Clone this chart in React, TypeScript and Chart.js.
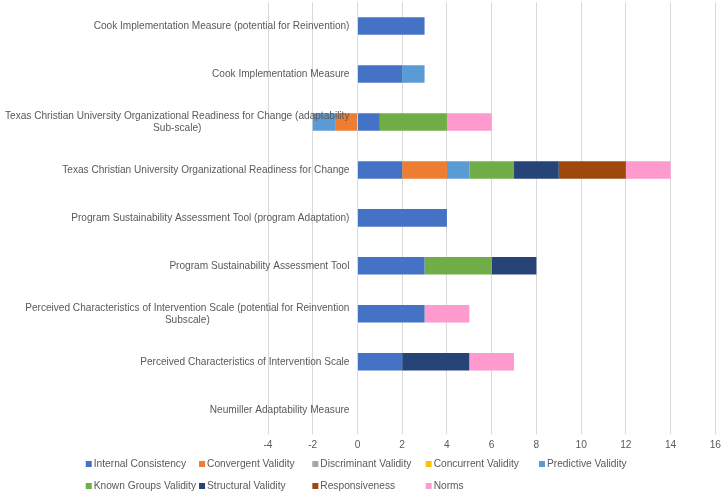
import React, { useEffect, useRef } from "react";
import { Chart, registerables } from "chart.js";

Chart.register(...registerables);

const categories: string[][] = [
  ["Cook Implementation Measure (potential for Reinvention)"],
  ["Cook Implementation Measure"],
  ["Texas Christian University Organizational Readiness for Change (adaptability", "Sub-scale)"],
  ["Texas Christian University Organizational Readiness for Change"],
  ["Program Sustainability Assessment Tool (program Adaptation)"],
  ["Program Sustainability Assessment Tool"],
  ["Perceived Characteristics of Intervention Scale (potential for Reinvention", "Subscale)"],
  ["Perceived Characteristics of Intervention Scale"],
  ["Neumiller Adaptability Measure"],
];

const internalConsistency = [3, 2, 1, 2, 4, 3, 3, 2, null];
const convergentValidity = [null, null, -1, 2, null, null, null, null, null];
const discriminantValidity = [null, null, null, null, null, null, null, null, null];
const concurrentValidity = [null, null, null, null, null, null, null, null, null];
const predictiveValidity = [null, 1, -1, 1, null, null, null, null, null];
const knownGroupsValidity = [null, null, 3, 2, null, 3, null, null, null];
const structuralValidity = [null, null, null, 2, null, 2, null, 3, null];
const responsiveness = [null, null, null, 3, null, null, null, null, null];
const norms = [null, null, 2, 2, null, null, 2, 2, null];

const seriesNames = [
  "Internal Consistency",
  "Convergent Validity",
  "Discriminant Validity",
  "Concurrent Validity",
  "Predictive Validity",
  "Known Groups Validity",
  "Structural Validity",
  "Responsiveness",
  "Norms",
];
const seriesColors = [
  "#4472C4",
  "#ED7D31",
  "#A5A5A5",
  "#FFC000",
  "#5B9BD5",
  "#70AD47",
  "#264478",
  "#9E480E",
  "#FF9ACF",
];
const seriesValues = [
  internalConsistency,
  convergentValidity,
  discriminantValidity,
  concurrentValidity,
  predictiveValidity,
  knownGroupsValidity,
  structuralValidity,
  responsiveness,
  norms,
];

const xMin = -4;
const xMax = 16;
const xStep = 2;
const legendColumns = 5;

const FONT = "'Liberation Sans', Arial, sans-serif";
const TEXT = "#595959";

const labelPlugin = {
  id: "catLabels",
  afterDatasetsDraw(chart: any) {
    const ctx = chart.ctx;
    const xs = chart.scales.x;
    const ys = chart.scales.y;
    const right = xs.getPixelForValue(0) - 8;
    const lh = 12;
    ctx.save();
    ctx.font = `10.1px ${FONT}`;
    ctx.fillStyle = TEXT;
    ctx.textBaseline = "middle";
    ctx.textAlign = "center";
    categories.forEach((lines, i) => {
      const yc = ys.getPixelForValue(i);
      const w = Math.max(...lines.map((l) => ctx.measureText(l).width));
      lines.forEach((l, j) => {
        const y = yc + (j - (lines.length - 1) / 2) * lh;
        ctx.fillText(l, right - w / 2, y);
      });
    });
    ctx.restore();
  },
};

const legendPlugin = {
  id: "gridLegend",
  afterDraw(chart: any) {
    const ctx = chart.ctx;
    const items = chart.data.datasets.map((d: any) => ({ label: d.label, color: d.backgroundColor }));
    ctx.save();
    ctx.font = `10.2px ${FONT}`;
    const box = 6;
    const gap = 2;
    const widths = items.map((it: any) => box + gap + ctx.measureText(it.label).width);
    const colW = Math.max(...widths) + 3;
    const startX = (chart.width - legendColumns * colW) / 2 + 6;
    const rowY = [chart.height - 30, chart.height - 8];
    ctx.textBaseline = "middle";
    ctx.textAlign = "left";
    items.forEach((it: any, i: number) => {
      const c = i % legendColumns;
      const r = Math.floor(i / legendColumns);
      const x = startX + c * colW;
      const y = rowY[r];
      ctx.fillStyle = it.color;
      ctx.fillRect(x, y - box / 2, box, box);
      ctx.fillStyle = TEXT;
      ctx.fillText(it.label, x + box + gap, y);
    });
    ctx.restore();
  },
};

export default function App() {
  const ref = useRef<HTMLCanvasElement | null>(null);
  useEffect(() => {
    if (!ref.current) return;
    const chart = new Chart(ref.current, {
      type: "bar",
      data: {
        labels: categories.map((c) => c.join(" ")),
        datasets: seriesNames.map((name, i) => ({
          label: name,
          data: seriesValues[i] as any,
          backgroundColor: seriesColors[i],
          borderWidth: 0,
          barPercentage: 0.365,
          categoryPercentage: 1,
        })),
      },
      options: {
        indexAxis: "y",
        animation: false,
        responsive: true,
        maintainAspectRatio: false,
        layout: { padding: { top: 2, right: 10, left: 0, bottom: 38 } },
        plugins: {
          tooltip: { enabled: false },
          legend: { display: false },
        },
        scales: {
          x: {
            type: "linear",
            stacked: true,
            min: xMin,
            max: xMax,
            ticks: { stepSize: xStep, color: TEXT, font: { size: 10.2, family: FONT }, padding: 5 },
            grid: { color: "#D9D9D9", drawTicks: false },
            border: { display: false },
          },
          y: {
            type: "category",
            stacked: true,
            ticks: { display: false },
            grid: { display: false },
            border: { display: false },
            afterFit: (s: any) => {
              s.width = 268;
            },
          },
        },
      },
      plugins: [labelPlugin, legendPlugin],
    });
    return () => chart.destroy();
  }, []);
  return (
    <div style={{ position: "absolute", left: 0, top: 0, width: 726, height: 494 }}>
      <canvas ref={ref} />
    </div>
  );
}
